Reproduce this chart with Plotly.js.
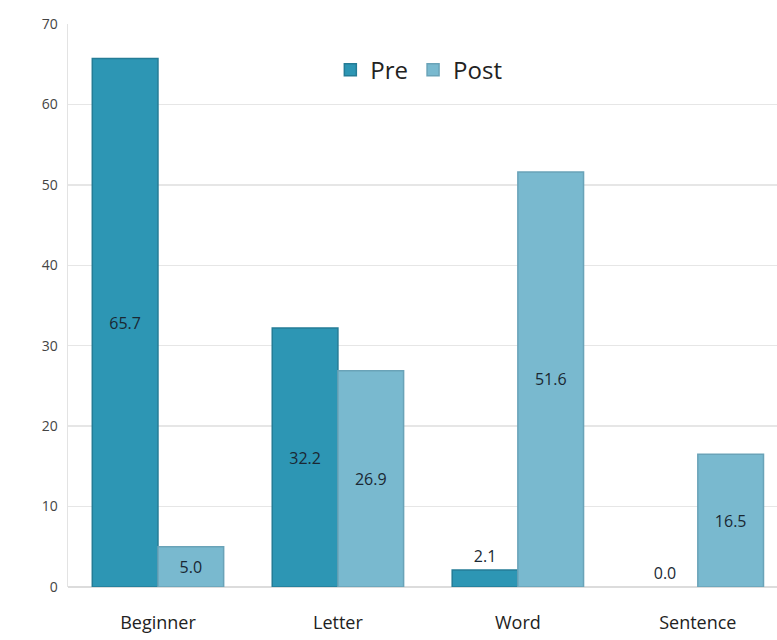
<!DOCTYPE html>
<html>
<head>
<meta charset="utf-8">
<script src="https://cdn.plot.ly/plotly-3.0.1.min.js"></script>
<style>html,body{margin:0;padding:0;background:#fff;}#chart{width:777px;height:640px;}</style>
</head>
<body>
<div id="chart"></div>
<script>
const categories = ["Beginner", "Letter", "Word", "Sentence"];
const preValues = [65.7, 32.2, 2.1, 0.0];
const postValues = [5.0, 26.9, 51.6, 16.5];
const seriesNames = ["Pre", "Post"];
const yTicks = [0, 10, 20, 30, 40, 50, 60, 70];

const labelFont = {family: "Open Sans, sans-serif", size: 16, color: "#1a2833"};

function positions(vals) {
  return vals.map(v => v < 4.5 ? "outside" : "inside");
}

const traces = [
  {
    type: "bar", name: seriesNames[0], x: categories, y: preValues,
    text: preValues.map(v => v.toFixed(1)), textposition: positions(preValues),
    insidetextanchor: "middle", constraintext: "none", cliponaxis: false,
    textfont: labelFont, insidetextfont: labelFont, outsidetextfont: labelFont,
    marker: {color: "#2d96b4", line: {color: "#247c96", width: preValues.map(v => v > 0 ? 1.5 : 0)}},
    hoverinfo: "none"
  },
  {
    type: "bar", name: seriesNames[1], x: categories, y: postValues,
    text: postValues.map(v => v.toFixed(1)), textposition: postValues.map(() => "inside"),
    insidetextanchor: "middle", constraintext: "none", cliponaxis: false,
    textfont: labelFont, insidetextfont: labelFont, outsidetextfont: labelFont,
    marker: {color: "#79b9cf", line: {color: "#6aa3b8", width: 1.5}},
    hoverinfo: "none"
  }
];

const layout = {
  width: 777, height: 640,
  margin: {l: 68, r: 0, t: 24, b: 53, pad: 0},
  paper_bgcolor: "#ffffff", plot_bgcolor: "#ffffff",
  font: {family: "Open Sans, sans-serif", color: "#333"},
  barmode: "group", bargap: 0.27, bargroupgap: 0,
  showlegend: true,
  legend: {orientation: "h", x: 0.37, y: 0.918, xanchor: "left", yanchor: "middle",
    font: {size: 24, color: "#222"}, bgcolor: "rgba(0,0,0,0)", itemwidth: 30, tracegroupgap: 0},
  xaxis: {
    type: "category", range: [-0.5, 3.44], showgrid: false, zeroline: false,
    showline: false, ticks: "", tickfont: {size: 18, color: "#222"}, ticklabelstandoff: 23
  },
  yaxis: {
    range: [0, 70], tickvals: yTicks, ticktext: yTicks.map(String),
    showgrid: true, gridcolor: "#e6e6e6", gridwidth: 1.5,
    zeroline: true, zerolinecolor: "#dcdcdc", zerolinewidth: 1.5,
    showline: true, linecolor: "#e3e3e3", linewidth: 1.5,
    ticks: "", tickfont: {size: 14, color: "#444"}, ticklabelstandoff: 6
  }
};

Plotly.newPlot("chart", traces, layout, {staticPlot: true, displayModeBar: false});
</script>
</body>
</html>
